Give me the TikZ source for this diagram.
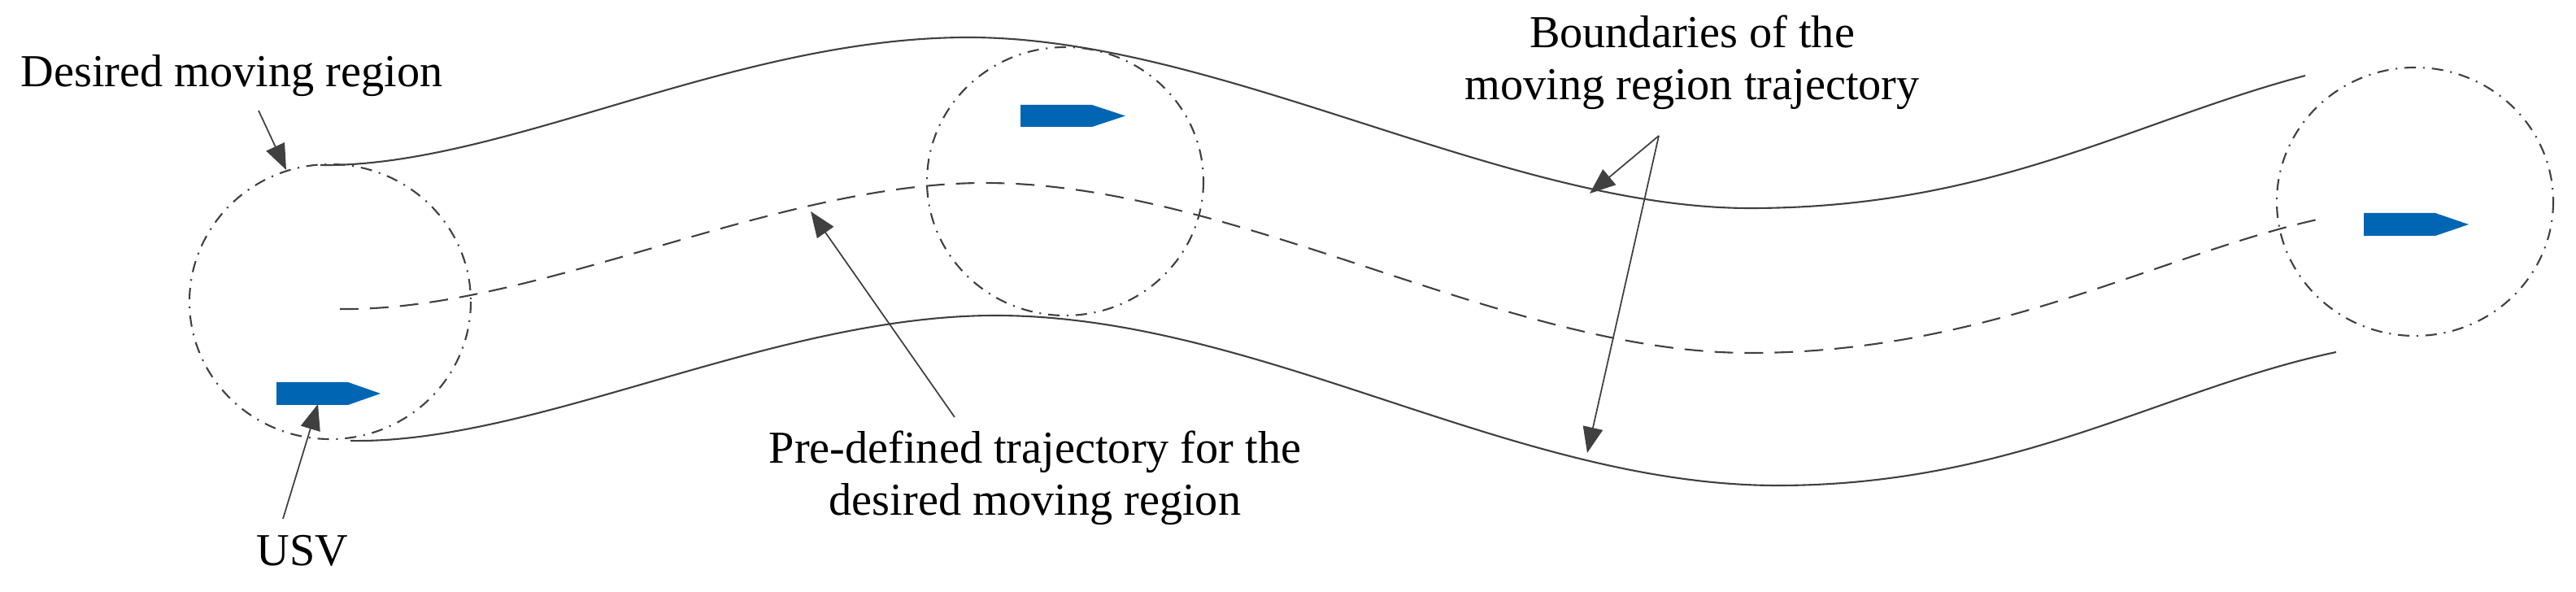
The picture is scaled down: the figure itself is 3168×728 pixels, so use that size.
\documentclass[tikz,border=0pt]{standalone}
\usepackage{fontspec}
\setmainfont{Liberation Serif}
\usetikzlibrary{arrows.meta}
\definecolor{ln}{HTML}{404040}
\definecolor{usvc}{HTML}{0066B3}
\begin{document}
\begin{tikzpicture}[x=0.01cm,y=-0.01cm,
  curve/.style={draw=ln,line width=0.6pt},
  region/.style={draw=ln,line width=0.6pt,dash pattern=on 4pt off 2.5pt on 0.6pt off 2.5pt},
  traj/.style={draw=ln,line width=0.6pt,dash pattern=on 6.5pt off 4pt},
  pointer/.style={draw=ln,line width=0.5pt,-{Triangle[length=9pt,width=7pt]}},
  lbl/.style={font=\fontsize{16}{18.2}\selectfont,anchor=base,align=center,inner sep=0pt},
  usv/.style={fill=usvc}]
\useasboundingbox (0,0) rectangle (3168,728);
% desired moving regions
\draw[region] (406,371) ellipse [x radius=173, y radius=169];
\draw[region] (1310,223) ellipse [x radius=170, y radius=165];
\draw[region] (2970,248) ellipse [x radius=170, y radius=165];
% boundaries
\draw[curve] (394,203) .. controls (620,206) and (900,46) .. (1191,46) .. controls (1500,46) and (1850,256) .. (2152,256) .. controls (2450,256) and (2620,150) .. (2835,93);
\draw[curve] (431,542) .. controls (660,546) and (950,388) .. (1224,388) .. controls (1550,388) and (1860,597) .. (2186,597) .. controls (2480,597) and (2660,478) .. (2873,433);
% trajectory
\draw[traj] (418,380) .. controls (660,383) and (950,225) .. (1211,225) .. controls (1520,225) and (1850,434) .. (2152,434) .. controls (2450,434) and (2660,310) .. (2859,268);
% USVs
\path[usv] (340,470) -- (428,470) -- (468,484) -- (428,498) -- (340,498) -- cycle;
\path[usv] (1255,129) -- (1343,129) -- (1384,142.5) -- (1343,156) -- (1255,156) -- cycle;
\path[usv] (2907,262) -- (2995,262) -- (3036,276) -- (2995,290) -- (2907,290) -- cycle;
% labels
\node[lbl] (tdes) at (285,107) {Desired moving region};
\node[lbl] (tusv) at (372,696) {USV};
\node[lbl] (tpre) at (1273,634) {Pre-defined trajectory for the\\desired moving region};
\node[lbl] (tbnd) at (2081,123) {Boundaries of the\\moving region trajectory};
% pointer coordinates
\coordinate (a1s) at (318,136); \coordinate (a1e) at (352,209);
\coordinate (a2s) at (348,638); \coordinate (a2e) at (391,497);
\coordinate (a3s) at (1174,513); \coordinate (a3e) at (997,260);
\coordinate (a4s) at (2040,167); \coordinate (a4e) at (1955,238); \coordinate (a5e) at (1952,557);
\draw[pointer] (a1s) -- (a1e);
\draw[pointer] (a2s) -- (a2e);
\draw[pointer] (a3s) -- (a3e);
\draw[pointer] (a4s) -- (a4e);
\draw[pointer] (a4s) -- (a5e);
\end{tikzpicture}
\end{document}
